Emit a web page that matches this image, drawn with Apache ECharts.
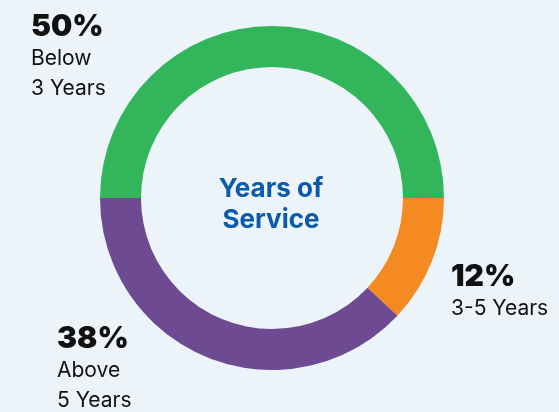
<!DOCTYPE html>
<html><head><meta charset="utf-8">
<script src="https://cdn.jsdelivr.net/npm/echarts@6/dist/echarts.min.js"></script>
<style>html,body{margin:0;padding:0;background:#ecf4fa;}#c{width:559px;height:412px;}</style>
</head><body><div id="c"></div>
<script>
const categories = ['Below\n3 Years', '3-5 Years', 'Above\n5 Years'];
const values = [50, 12, 38];
const colors = ['#33b55b', '#f58a22', '#6d4a91'];
const centerTitle = 'Years of\nService';
const labelPos = [[31, 9], [451, 259], [57, 321]];

const chart = echarts.init(document.getElementById('c'));
chart.setOption({
  backgroundColor: '#ecf4fa',
  animation: false,
  graphic: [{
    type: 'text', x: 271, y: 205,
    style: {
      text: centerTitle, textAlign: 'center', textVerticalAlign: 'middle',
      font: 'bold 26px Inter', fill: '#0b5aab', lineHeight: 31
    }
  }],
  series: [{
    type: 'pie',
    center: [272, 198],
    radius: [131, 172],
    startAngle: 180,
    clockwise: true,
    silent: true,
    data: categories.map((c, i) => ({ name: c, value: values[i], itemStyle: { color: colors[i] } })),
    label: {
      show: true,
      position: 'outside',
      overflow: 'none',
      width: 200,
      formatter: p => '{p|' + p.value + '%}\n{t|' + p.name.split('\n').join('}\n{t|') + '}',
      rich: {
        p: { fontFamily: 'Inter', fontWeight: 900, fontSize: 30, lineHeight: 35, color: '#111' },
        t: { fontFamily: 'Inter', fontWeight: 400, fontSize: 21, lineHeight: 30, color: '#111' }
      }
    },
    labelLine: { show: false },
    labelLayout: p => ({ x: labelPos[p.dataIndex][0], y: labelPos[p.dataIndex][1], align: 'left', verticalAlign: 'top' })
  }]
});
</script></body></html>
